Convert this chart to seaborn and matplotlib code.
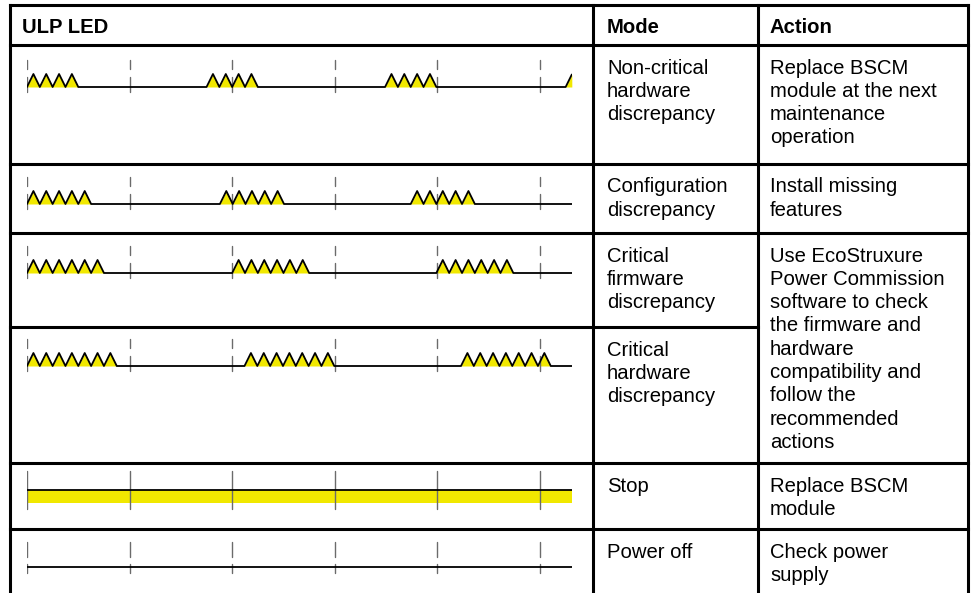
import numpy as np
import pandas as pd
import matplotlib
matplotlib.use("Agg")
import matplotlib.pyplot as plt
import seaborn as sns

# ---------------- data ----------------
headers = ["ULP LED", "Mode", "Action"]
modes = [
    "Non-critical\nhardware\ndiscrepancy",
    "Configuration\ndiscrepancy",
    "Critical\nfirmware\ndiscrepancy",
    "Critical\nhardware\ndiscrepancy",
    "Stop",
    "Power off",
]
actions = [
    "Replace BSCM\nmodule at the next\nmaintenance\noperation",
    "Install missing\nfeatures",
    "Use EcoStruxure\nPower Commission\nsoftware to check\nthe firmware and\nhardware\ncompatibility and\nfollow the\nrecommended\nactions",
    None,  # merged with the row above
    "Replace BSCM\nmodule",
    "Check power\nsupply",
]
# LED blink patterns (time in tick units)
pulses_per_burst = [4, 5, 6, 7, 0, 0]
burst_starts = [
    [0.0, 1.75, 3.49, 5.25],
    [0.0, 1.88, 3.74],
    [0.0, 2.0, 3.99],
    [0.0, 2.12, 4.23],
    [],
    [],
]
steady_on = [False, False, False, False, True, False]
pulse_width = 0.125
time_end = 5.31
tick_times = [0, 1, 2, 3, 4, 5]

# ---------------- style ----------------
sns.set_style("white")
plt.rcParams["font.family"] = ["Liberation Sans", "DejaVu Sans"]
plt.rcParams["text.color"] = "black"
YELLOW = "#F1E800"
FS = 14.6

W, H = 971, 593
fig = plt.figure(figsize=(W / 100, H / 100), dpi=100)
ax0 = fig.add_axes([0, 0, 1, 1])
ax0.set_xlim(0, W)
ax0.set_ylim(H, 0)
ax0.axis("off")

# table geometry (pixels)
x_left, x_c1, x_c2, x_right = 10, 593, 758, 968
row_tops = [45, 164, 233, 327, 463, 529]
LW = 2.2

for y in [5, 45, 164, 233, 463, 529]:
    ax0.plot([x_left, x_right], [y, y], color="black", lw=LW, solid_capstyle="projecting")
ax0.plot([x_left, x_c2], [327, 327], color="black", lw=LW, solid_capstyle="projecting")
for x in [x_left, x_c1, x_c2, x_right]:
    ax0.plot([x, x], [5, H + 5], color="black", lw=LW, solid_capstyle="projecting")

# header text
for txt, x in zip(headers, [22, 607, 770]):
    ax0.text(x, 33, txt, fontsize=FS, fontweight="bold", va="baseline", ha="left",
             color="black")

LS = 23.3
def cell_text(x, top, text):
    for i, line in enumerate(text.split("\n")):
        ax0.text(x, top + 28.5 + i * LS, line, fontsize=FS, va="baseline", ha="left",
                 color="black")

for top, m, a in zip(row_tops, modes, actions):
    cell_text(607, top, m)
    if a is not None:
        cell_text(770, top, a)

# ---------------- waveforms ----------------
baselines = [87, 204, 273, 366, 503, 567]
AMP = 13.0  # pixels per "on" level
wx0, wx1 = 27, 27 + time_end * 102.6


def waveform(n, starts, on):
    if on:
        return np.array([0.0, time_end]), np.array([1.0, 1.0])
    t = [0.0]
    y = [0.0]
    for s in starts:
        for k in range(n):
            t += [s + k * pulse_width, s + (k + 0.5) * pulse_width, s + (k + 1) * pulse_width]
            y += [0.0, 1.0, 0.0]
    t.append(time_end + 1)
    y.append(0.0)
    t = np.array(t)
    y = np.array(y)
    yend = np.interp(time_end, t, y)
    keep = t <= time_end
    t = np.append(t[keep], time_end)
    y = np.append(y[keep], yend)
    return t, y


for i, base in enumerate(baselines):
    top_px, bot_px = base - 40, base + 10
    ax = fig.add_axes([wx0 / W, 1 - bot_px / H, (wx1 - wx0) / W, (bot_px - top_px) / H])
    ax.set_xlim(0, time_end)
    ax.set_ylim(-10 / AMP, 40 / AMP)
    ax.axis("off")
    ax.patch.set_alpha(0)
    t, y = waveform(pulses_per_burst[i], burst_starts[i], steady_on[i])
    df = pd.DataFrame({"t": t, "level": y})
    ax.fill_between(df["t"], 0, df["level"], color=YELLOW, lw=0, zorder=1)
    # tick marks
    for tt in tick_times:
        if steady_on[i]:
            segs = [(-0.45, 2.5)]
        elif i == 5:
            segs = [(-0.45, 0.25), (0.75, 1.9)]
        else:
            segs = [(-0.35, 0.75), (1.4, 2.1)]
        for a, b in segs:
            ax.plot([tt, tt], [a, b], color="#6b6b6b", lw=1.0, zorder=3)
    sns.lineplot(data=df, x="t", y="level", sort=False, estimator=None,
                 color="black", lw=1.3, ax=ax, zorder=4)
    ax.set_xlabel("")
    ax.set_ylabel("")

fig.savefig("out.png", dpi=100)
